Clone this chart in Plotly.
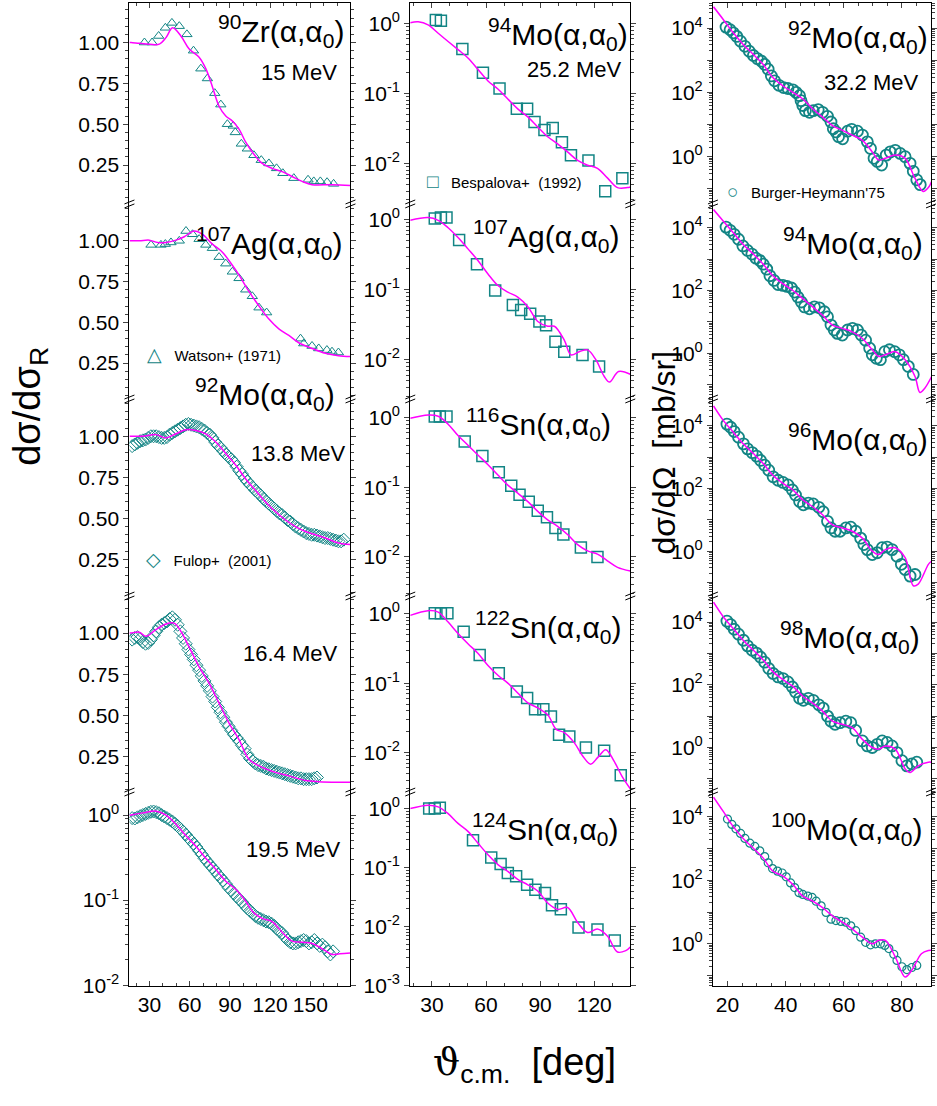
import plotly.graph_objects as go

W, H = 937, 1106
TEAL = '#138585'
MAG = '#ff00ff'
FONT = 'Liberation Sans, Arial, Helvetica, sans-serif'

# ---------------- left column : d(sigma)/d(sigma_R) ----------------
zr90_15_x = [26.2, 31.9, 36.8, 41.8, 46.7, 52.2, 57.9, 62.8, 68.3, 73.2, 78.7, 83.2, 88.1, 92.5, 94.0, 98.5,
             103.0, 107.9, 113.4, 119.1, 124.8, 129.5, 137.7, 148.3, 152.6, 157.5, 162.5, 167.4]
zr90_15_y = [1.00, 1.00, 1.04, 1.09, 1.12, 1.10, 1.05, 0.95, 0.84, 0.78, 0.69, 0.62, 0.50, 0.49, 0.45, 0.38,
             0.35, 0.31, 0.28, 0.26, 0.23, 0.20, 0.17, 0.16, 0.15, 0.15, 0.145, 0.135]
zr90_15_fit_x = [15, 16.2, 22.4, 30.0, 37.3, 42.3, 47.2, 53.4, 59.6, 67.0, 72.0, 76.9, 81.9, 86.9, 91.8, 96.8,
                 101.8, 106.7, 114.1, 121.5, 129.0, 136.4, 143.9, 151.3, 166.2, 180]
zr90_15_fit_y = [1.0, 1.0, 0.995, 0.99, 0.99, 1.03, 1.09, 1.04, 0.96, 0.91, 0.84, 0.73, 0.61, 0.55, 0.52, 0.47,
                 0.39, 0.33, 0.26, 0.23, 0.21, 0.18, 0.15, 0.13, 0.13, 0.125]

ag107_w_x = [31.1, 38.5, 41.8, 46.0, 52.2, 57.2, 62.1, 67.0, 72.0, 76.9, 81.9, 86.9, 91.8, 96.8, 101.8, 106.7,
             111.7, 117.4, 142.7, 145.1, 151.3, 156.3, 162.4, 166.2, 171.0]
ag107_w_y = [0.975, 0.975, 0.98, 0.99, 1.00, 1.06, 1.04, 1.01, 0.975, 0.955, 0.90, 0.86, 0.81, 0.77, 0.70, 0.66,
             0.59, 0.56, 0.40, 0.37, 0.355, 0.34, 0.33, 0.32, 0.315]
ag107_w_fit_x = [15, 22.4, 29.8, 36.0, 42.3, 49.7, 55.9, 63.3, 69.5, 76.9, 84.4, 91.8, 96.8, 104.2, 111.7, 119.1,
                 126.5, 134.0, 141.4, 151.3, 161.2, 171.0, 180]
ag107_w_fit_y = [1.0, 1.0, 1.004, 0.99, 0.99, 1.004, 1.025, 1.06, 1.04, 0.98, 0.93, 0.85, 0.79, 0.69, 0.60, 0.52,
                 0.46, 0.42, 0.375, 0.34, 0.31, 0.295, 0.29]

mo92_138_x = [17, 19, 21, 23, 25, 27, 29, 31, 33, 35, 37, 39, 41, 43, 45, 47, 49, 51, 53, 55,
              57, 59, 61, 63, 65, 67, 69, 71, 73, 75, 77, 79, 81, 83, 85, 87, 89, 91, 93, 95,
              97, 99, 101, 103, 105, 107, 109, 111, 113, 115, 117, 119, 121, 123, 125, 127, 129, 131, 133, 135,
              137, 139, 141, 143, 145, 147, 149, 151, 153, 155, 157, 159, 161, 163, 165, 167, 169, 171, 173, 175]
mo92_138_y = [0.94, 0.95, 0.96, 0.97, 0.975, 0.98, 0.99, 1.00, 1.00, 1.00,
              0.995, 0.99, 0.99, 0.995, 1.01, 1.02, 1.03, 1.04, 1.05, 1.06,
              1.07, 1.075, 1.07, 1.065, 1.06, 1.055, 1.045, 1.035, 1.02, 1.01,
              0.99, 0.965, 0.945, 0.93, 0.91, 0.89, 0.875, 0.86, 0.84, 0.815,
              0.79, 0.77, 0.745, 0.725, 0.705, 0.69, 0.67, 0.655, 0.64, 0.62,
              0.605, 0.59, 0.575, 0.56, 0.545, 0.53, 0.52, 0.505, 0.49, 0.48,
              0.465, 0.45, 0.44, 0.43, 0.42, 0.41, 0.405, 0.40, 0.40, 0.395,
              0.39, 0.385, 0.38, 0.38, 0.375, 0.37, 0.365, 0.36, 0.36, 0.37]
mo92_138_fit_x = [15, 16.2, 24.9, 34.8, 42.3, 49.7, 57.2, 64.6, 72.0, 79.4, 86.9, 94.3, 101.8, 109.2, 116.6,
                  124.1, 131.5, 138.9, 146.4, 153.8, 161.2, 171.1, 180]
mo92_138_fit_y = [1.0, 1.0, 1.0, 1.01, 0.99, 1.015, 1.04, 1.035, 1.015, 0.965, 0.895, 0.825, 0.74, 0.67, 0.60,
                  0.54, 0.49, 0.45, 0.42, 0.40, 0.38, 0.35, 0.34]

mo92_164_x = [17, 19, 21, 23, 25, 27, 29, 31, 33, 35, 37, 39, 41, 43, 45, 47, 49, 51, 53, 55,
              57, 59, 61, 63, 65, 67, 69, 71, 73, 75, 77, 79, 81, 83, 85, 87, 89, 91, 93, 95,
              97, 99, 101, 103, 105, 107, 109, 111, 113, 115, 117, 119, 121, 123, 125, 127, 129, 131, 133, 135,
              137, 139, 141, 143, 145, 147, 149, 151, 153, 155]
mo92_164_y = [0.96, 0.97, 0.975, 0.965, 0.945, 0.935, 0.94, 0.96, 0.985, 1.01,
              1.035, 1.05, 1.06, 1.07, 1.085, 1.095, 1.08, 1.05, 1.01, 0.97,
              0.935, 0.90, 0.87, 0.84, 0.805, 0.775, 0.74, 0.71, 0.68, 0.65,
              0.615, 0.585, 0.55, 0.52, 0.49, 0.46, 0.435, 0.41, 0.385, 0.365,
              0.345, 0.32, 0.30, 0.265, 0.24, 0.225, 0.21, 0.20, 0.195, 0.19,
              0.18, 0.175, 0.17, 0.165, 0.16, 0.155, 0.15, 0.145, 0.14, 0.135,
              0.13, 0.125, 0.12, 0.12, 0.115, 0.115, 0.115, 0.115, 0.12, 0.125]
mo92_164_fit_x = [15, 16.2, 22.4, 27.3, 34.8, 42.3, 48.4, 53.4, 59.6, 67.0, 74.5, 81.9, 89.3, 96.8, 104.2,
                  114.1, 124.0, 134.0, 146.4, 156.3, 171.1, 180]
mo92_164_fit_y = [1.0, 1.0, 1.005, 0.98, 1.02, 1.055, 1.06, 1.01, 0.915, 0.795, 0.695, 0.575, 0.455, 0.355,
                  0.236, 0.186, 0.156, 0.135, 0.107, 0.10, 0.097, 0.097]

mo92_195_x = [17, 19, 21, 23, 25, 27, 29, 31, 33, 35, 37, 39, 41, 43, 45, 47, 49, 51, 53, 55,
              57, 59, 61, 63, 65, 67, 69, 71, 73, 75, 77, 79, 81, 83, 85, 87, 89, 91, 93, 95,
              97, 99, 101, 103, 105, 107, 109, 111, 113, 115, 117, 119, 121, 123, 125, 127, 129, 131, 133, 135,
              137, 139, 141, 143, 145, 147, 149, 151, 153, 155, 157, 159, 161, 163, 165, 167]
mo92_195_y = [0.92, 0.91, 0.94, 0.97, 1.0, 1.03, 1.06, 1.09, 1.10, 1.08,
              1.05, 1.0, 0.96, 0.92, 0.88, 0.84, 0.79, 0.74, 0.69, 0.64,
              0.59, 0.54, 0.50, 0.46, 0.42, 0.38, 0.345, 0.31, 0.285, 0.26,
              0.24, 0.22, 0.20, 0.185, 0.17, 0.155, 0.14, 0.13, 0.12, 0.11,
              0.102, 0.095, 0.087, 0.08, 0.075, 0.07, 0.065, 0.062, 0.06, 0.058,
              0.056, 0.055, 0.053, 0.05, 0.046, 0.043, 0.041, 0.037, 0.034, 0.032,
              0.031, 0.031, 0.032, 0.033, 0.034, 0.033, 0.031, 0.032, 0.034, 0.031,
              0.029, 0.030, 0.028, 0.025, 0.023, 0.025]
mo92_195_fit_x = [15, 16.2, 24.9, 34.8, 42.3, 49.7, 57.2, 64.6, 72.0, 79.4, 86.9, 94.3, 101.8, 106.7, 114.1,
                  121.5, 129.0, 136.4, 143.9, 151.3, 158.7, 166.2, 172.0, 180]
mo92_195_fit_y = [0.99, 1.0, 1.06, 1.11, 1.0, 0.78, 0.57, 0.43, 0.31, 0.23, 0.167, 0.134, 0.097, 0.074, 0.061,
                  0.056, 0.042, 0.033, 0.032, 0.031, 0.027, 0.023, 0.0235, 0.024]

# ---------------- middle column : d(sigma)/d(sigma_R), Bespalova+ ----------------
mo94_252_x = [32.2, 35.0, 46.9, 58.3, 67.5, 77.1, 82.8, 86.9, 92.4, 97.0, 102.1, 107.1, 116.8, 126.1, 135.6]
mo94_252_y = [1.11, 1.09, 0.43, 0.197, 0.117, 0.060, 0.060, 0.039, 0.030, 0.032, 0.020, 0.013, 0.011, 0.0040, 0.0061]
mo94_252_fit_x = [18, 22.4, 27.9, 33.5, 39.0, 44.5, 50.0, 55.5, 61.1, 66.6, 72.1, 77.6, 83.2, 88.7, 94.2, 99.7,
                  105.2, 110.8, 116.3, 121.8, 127.3, 132.9, 138.4, 140]
mo94_252_fit_y = [1.02, 1.05, 0.95, 0.72, 0.55, 0.42, 0.32, 0.22, 0.15, 0.115, 0.083, 0.060, 0.046, 0.033, 0.024,
                  0.019, 0.0146, 0.011, 0.0094, 0.0085, 0.0062, 0.0045, 0.0045, 0.0046]

ag107_x = [31.6, 35.0, 38.1, 45.1, 55.0, 65.1, 74.9, 79.5, 84.5, 89.6, 93.3, 98.5, 103.4, 113.5, 122.7]
ag107_y = [1.03, 1.06, 1.06, 0.51, 0.23, 0.097, 0.060, 0.051, 0.045, 0.035, 0.031, 0.018, 0.013, 0.0117, 0.008]
ag107_fit_x = [18, 27.9, 33.5, 39.0, 44.5, 50.0, 55.5, 61.1, 66.6, 72.1, 77.6, 83.2, 88.7, 94.2, 97.9, 103.4,
               107.1, 111.7, 116.3, 120.9, 125.5, 128.5, 133.5, 140]
ag107_fit_y = [0.97, 1.06, 0.97, 0.76, 0.55, 0.38, 0.26, 0.167, 0.114, 0.092, 0.078, 0.057, 0.035, 0.030, 0.030,
               0.019, 0.0117, 0.013, 0.0138, 0.010, 0.0058, 0.0048, 0.0068, 0.0062]

sn116_x = [31.6, 34.4, 38.1, 48.2, 58.0, 67.1, 74.0, 78.6, 83.7, 88.7, 93.8, 98.5, 102.9, 112.6, 121.8]
sn116_y = [1.03, 1.03, 1.03, 0.45, 0.28, 0.163, 0.105, 0.078, 0.062, 0.046, 0.037, 0.026, 0.021, 0.0136, 0.010]
sn116_fit_x = [18, 27.9, 33.5, 39.0, 44.5, 50.0, 55.5, 61.1, 66.6, 72.1, 77.6, 83.2, 88.7, 94.2, 99.7, 105.2,
               110.8, 116.3, 121.8, 127.3, 132.9, 140]
sn116_fit_y = [0.97, 1.08, 1.04, 0.80, 0.55, 0.40, 0.29, 0.21, 0.149, 0.107, 0.082, 0.062, 0.045, 0.034, 0.0275,
               0.021, 0.015, 0.0122, 0.011, 0.0088, 0.0071, 0.0063]

sn122_x = [31.6, 35.0, 38.6, 47.6, 56.5, 67.1, 77.1, 82.8, 87.2, 91.8, 96.0, 100.5, 106.2, 115.4, 125.5, 134.7]
sn122_y = [1.02, 1.02, 1.02, 0.55, 0.254, 0.139, 0.076, 0.061, 0.042, 0.042, 0.033, 0.018, 0.017, 0.0118, 0.0106,
           0.0047]
sn122_fit_x = [18, 27.9, 33.5, 39.0, 44.5, 50.0, 55.5, 61.1, 66.6, 72.1, 77.6, 83.2, 88.7, 94.2, 98.9, 103.4,
               108.9, 113.5, 118.0, 122.0, 126.4, 131.0, 135.5, 140]
sn122_fit_y = [0.95, 1.11, 1.06, 0.76, 0.52, 0.37, 0.27, 0.18, 0.13, 0.10, 0.072, 0.052, 0.044, 0.035, 0.0216,
               0.0194, 0.0139, 0.009, 0.0068, 0.0085, 0.011, 0.0075, 0.0045, 0.003]

sn124_x = [28.5, 31.6, 34.4, 52.8, 62.9, 68.1, 72.1, 76.7, 82.8, 87.4, 92.7, 96.6, 101.5, 111.3, 121.8, 131.4]
sn124_y = [1.0, 1.0, 1.03, 0.29, 0.148, 0.115, 0.081, 0.071, 0.051, 0.042, 0.037, 0.023, 0.0196, 0.0096, 0.0089,
           0.0058]
sn124_fit_x = [18, 27.9, 33.5, 39.0, 44.5, 50.0, 55.5, 61.1, 66.6, 72.1, 77.6, 83.2, 88.7, 94.2, 99.7, 105.2,
               110.8, 116.3, 121.8, 127.3, 132.9, 137.5, 140]
sn124_fit_y = [1.0, 1.14, 1.07, 0.82, 0.56, 0.41, 0.26, 0.165, 0.112, 0.086, 0.063, 0.051, 0.040, 0.025, 0.0195,
               0.021, 0.0117, 0.0079, 0.0091, 0.0069, 0.0037, 0.0039, 0.0045]

# ---------------- right column : d(sigma)/d(Omega) [mb/sr], Burger-Heymann'75 ----------------
mo92_322_x = [19.5, 20.9, 22.0, 23.2, 24.5, 26.0, 27.5, 28.9, 30.3, 31.7, 32.8, 34.0, 35.1, 36.2, 37.7, 39.3,
              40.8, 42.5, 43.6, 44.8, 45.3, 45.9, 46.8, 48.2, 49.5, 51.2, 52.7, 54.4, 55.6, 56.4, 57.3, 58.2,
              59.6, 61.3, 62.7, 64.7, 66.4, 68.1, 69.2, 70.4, 71.5, 73.0, 74.6, 76.0, 77.7, 79.4, 81.1, 82.8,
              83.9, 85.1, 86.3]
mo92_322_y = [10700, 8900, 7100, 5500, 3900, 2700, 1900, 1400, 1120, 930, 740, 525, 324, 229, 166, 141,
              132, 120, 100, 79, 55, 39, 27, 24, 27, 29, 24, 18, 12, 7.4, 5.9, 4.2,
              3.6, 6.2, 7.1, 6.2, 4.7, 2.9, 1.8, 0.89, 0.71, 0.55, 1.12, 1.41, 1.58, 1.26, 1.0, 0.62,
              0.35, 0.19, 0.135]
mo92_322_fit_x = [15.2, 18.6, 22.0, 25.4, 28.9, 32.3, 35.6, 39.1, 42.5, 45.9, 49.3, 52.7, 56.1, 59.5, 62.9,
                  66.4, 69.8, 72.0, 74.3, 77.7, 81.1, 84.5, 87.3, 89.1, 90.2]
mo92_322_fit_y = [45700, 18200, 7100, 3090, 1510, 741, 288, 158, 100, 62, 31, 17, 9.3, 6.6, 4.7,
                  3.2, 1.41, 0.79, 0.89, 1.12, 0.89, 0.21, 0.083, 0.11, 0.17]

mo94_x = [19.5, 20.9, 22.3, 23.8, 25.3, 26.9, 28.4, 29.8, 31.2, 32.3, 33.5, 34.6, 36.0, 37.4, 39.1, 40.5,
          42.0, 43.1, 44.2, 45.4, 46.5, 48.2, 49.9, 51.6, 53.3, 54.4, 55.6, 56.7, 57.8, 59.5, 61.3, 63.0,
          64.7, 66.0, 67.5, 68.9, 69.8, 71.2, 72.6, 74.1, 75.7, 77.5, 79.1, 80.5, 82.2, 83.9]
mo94_y = [10500, 8300, 6200, 4300, 2630, 1900, 1450, 1070, 890, 690, 480, 295, 209, 155, 145, 135,
          120, 89, 62, 43, 30, 26, 30, 28, 21, 14.5, 7.9, 5.5, 4.3, 3.8, 5.5, 6.2,
          5.5, 3.8, 2.6, 1.45, 0.89, 0.69, 0.62, 1.12, 1.29, 1.12, 0.89, 0.62, 0.38, 0.21]
mo94_fit_x = [15.2, 18.6, 22.0, 25.4, 28.9, 32.3, 35.6, 39.1, 42.5, 45.9, 49.3, 52.7, 56.1, 59.5, 62.9, 66.4,
              69.8, 72.0, 74.3, 77.7, 81.1, 84.5, 86.2, 87.8, 90.2]
mo94_fit_y = [38000, 16200, 6900, 2950, 1450, 690, 295, 162, 100, 55, 30, 16.2, 7.9, 6.2, 4.8, 2.95,
              1.29, 0.79, 0.89, 1.12, 0.62, 0.18, 0.056, 0.075, 0.18]

mo96_x = [19.8, 21.1, 22.3, 23.8, 25.5, 26.9, 28.5, 30.0, 31.4, 32.8, 34.2, 35.7, 37.4, 39.1, 40.8, 42.3,
          43.4, 44.8, 46.1, 47.8, 49.5, 51.4, 52.9, 54.4, 55.6, 57.0, 58.7, 60.7, 62.4, 64.1, 65.8, 66.9,
          68.1, 69.8, 71.5, 73.2, 74.9, 76.6, 78.3, 79.8, 81.1, 82.8, 84.5]
mo96_y = [11200, 8900, 6500, 4300, 2630, 1820, 1380, 1070, 780, 550, 380, 234, 182, 155, 129, 89,
          62, 38, 30, 34, 32, 25, 18, 8.9, 5.5, 4.3, 4.3, 5.5, 5.8, 4.3, 2.6, 1.62,
          1.12, 0.78, 0.89, 1.29, 1.35, 1.12, 0.69, 0.38, 0.26, 0.16, 0.18]
mo96_fit_x = [15.2, 18.6, 22.0, 25.4, 28.9, 32.3, 35.6, 39.1, 42.5, 45.9, 49.3, 52.7, 56.1, 59.5, 62.9, 66.4,
              69.8, 72.0, 74.3, 77.7, 81.1, 83.9, 85.6, 89.1, 90.2]
mo96_fit_y = [42700, 14500, 6200, 2630, 1290, 617, 263, 145, 89, 43, 26, 14.5, 6.9, 5.5, 4.3, 2.6,
              1.0, 0.78, 1.12, 1.29, 0.62, 0.079, 0.089, 0.38, 0.48]

mo98_x = [19.8, 21.1, 22.3, 23.8, 25.5, 26.9, 28.5, 30.0, 31.4, 32.8, 34.2, 35.7, 37.4, 39.1, 40.8, 42.3,
          43.4, 44.8, 46.1, 47.8, 49.5, 51.4, 52.9, 54.4, 55.6, 57.0, 58.7, 60.7, 62.4, 64.1, 66.4, 68.1,
          69.8, 71.5, 73.2, 74.9, 76.6, 78.3, 80.0, 81.7, 83.4, 85.1]
mo98_y = [10700, 8300, 5900, 4100, 2630, 1740, 1260, 1020, 760, 525, 331, 229, 178, 158, 123, 85,
          59, 37, 32, 37, 32, 23, 18, 10, 6.9, 5.5, 6.2, 6.9, 6.2, 3.5, 1.62, 1.12,
          1.0, 1.26, 1.62, 1.45, 1.12, 0.69, 0.38, 0.26, 0.30, 0.34]
mo98_fit_x = [15.2, 18.6, 22.0, 25.4, 28.9, 32.3, 35.6, 39.1, 42.5, 45.9, 49.3, 52.7, 56.1, 59.5, 62.9, 66.4,
              69.8, 72.0, 74.3, 77.7, 81.1, 82.8, 85.6, 89.1, 90.2]
mo98_fit_y = [42700, 14500, 6200, 2630, 1260, 617, 263, 145, 89, 43, 26, 14.5, 6.9, 5.5, 4.3, 1.82,
              1.0, 0.89, 1.12, 0.89, 0.21, 0.16, 0.26, 0.34, 0.34]

mo100_x = [20.0, 21.5, 22.9, 24.5, 26.0, 27.7, 29.4, 31.1, 32.8, 34.0, 35.5, 37.2, 38.8, 40.2, 41.7, 43.1,
           44.6, 45.9, 47.6, 49.1, 50.5, 52.2, 53.9, 55.6, 57.3, 59.0, 60.7, 62.4, 64.1, 65.8, 67.5, 69.2,
           70.9, 72.6, 74.1, 75.5, 77.2, 78.3, 80.0, 81.7, 83.4, 85.1]
mo100_y = [8500, 5750, 4200, 3000, 2090, 1480, 1170, 850, 560, 355, 234, 195, 170, 129, 83, 59,
           41, 36, 32, 29, 22, 15.8, 9.8, 6.0, 5.4, 5.1, 4.8, 3.7, 2.6, 1.62, 1.12, 0.93,
           1.0, 1.0, 0.89, 0.71, 0.47, 0.30, 0.19, 0.155, 0.18, 0.21]
mo100_fit_x = [15.2, 18.6, 22.0, 25.4, 28.9, 32.3, 35.6, 39.1, 42.5, 45.9, 49.3, 52.7, 56.1, 59.5, 62.9, 66.4,
               69.8, 72.0, 74.3, 77.7, 81.1, 83.4, 86.7, 89.1, 90.2]
mo100_fit_y = [41700, 14500, 4900, 2090, 1020, 500, 195, 135, 74, 32, 22, 13.8, 7.6, 4.8, 2.95, 1.62,
               1.0, 1.29, 1.29, 0.39, 0.091, 0.148, 0.49, 0.62, 0.63]

# tick labels
x_ticks = {0: [30, 60, 90, 120, 150], 1: [30, 60, 90, 120], 2: [20, 40, 60, 80]}
lin_ticks = [0.25, 0.50, 0.75, 1.00]
lin_ticktext = ['0.25', '0.50', '0.75', '1.00']
log_ticks_mid = [1e-3, 1e-2, 1e-1, 1]
log_ticktext_mid = ['10<sup>-3</sup>', '10<sup>-2</sup>', '10<sup>-1</sup>', '10<sup>0</sup>']
log_ticks_right = [0.1, 1, 10, 100, 1000, 10000]
log_ticktext_right = ['', '10<sup>0</sup>', '', '10<sup>2</sup>', '', '10<sup>4</sup>']

# ---------------- layout geometry (pixels) ----------------
col_px = [(130, 352), (412, 633), (716, 935)]
row_px = [(3, 206), (206, 403), (403, 602), (602, 800), (800, 996)]
x_range = {0: [15, 180], 1: [18, 140], 2: [15, 90]}
x_minor = {0: 10, 1: 10, 2: 5}

# (row, col, data_x, data_y, symbol, size, lw, fit_x, fit_y, log, yrange)
panels = [
    (0, 0, zr90_15_x, zr90_15_y, 'triangle-up-open', 9, 1, zr90_15_fit_x, zr90_15_fit_y, False, [0.012, 1.242]),
    (1, 0, ag107_w_x, ag107_w_y, 'triangle-up-open', 9, 1, ag107_w_fit_x, ag107_w_fit_y, False, [0.03, 1.226]),
    (2, 0, mo92_138_x, mo92_138_y, 'diamond-open', 10, 1, mo92_138_fit_x, mo92_138_fit_y, False, [0.027, 1.227]),
    (3, 0, mo92_164_x, mo92_164_y, 'diamond-open', 10, 1, mo92_164_fit_x, mo92_164_fit_y, False, [0.037, 1.224]),
    (4, 0, mo92_195_x, mo92_195_y, 'diamond-open', 10, 1, mo92_195_fit_x, mo92_195_fit_y, True, [-2.01, 0.27]),
    (0, 1, mo94_252_x, mo94_252_y, 'square-open', 11, 1.5, mo94_252_fit_x, mo94_252_fit_y, True, [-2.58, 0.29]),
    (1, 1, ag107_x, ag107_y, 'square-open', 11, 1.5, ag107_fit_x, ag107_fit_y, True, [-2.56, 0.22]),
    (2, 1, sn116_x, sn116_y, 'square-open', 11, 1.5, sn116_fit_x, sn116_fit_y, True, [-2.56, 0.264]),
    (3, 1, sn122_x, sn122_y, 'square-open', 11, 1.5, sn122_fit_x, sn122_fit_y, True, [-2.57, 0.257]),
    (4, 1, sn124_x, sn124_y, 'square-open', 11, 1.5, sn124_fit_x, sn124_fit_y, True, [-3.01, 0.28]),
    (0, 2, mo92_322_x, mo92_322_y, 'circle-open', 11, 1.8, mo92_322_fit_x, mo92_322_fit_y, True, [-1.47, 4.78]),
    (1, 2, mo94_x, mo94_y, 'circle-open', 11, 1.8, mo94_fit_x, mo94_fit_y, True, [-1.46, 4.76]),
    (2, 2, mo96_x, mo96_y, 'circle-open', 11, 1.8, mo96_fit_x, mo96_fit_y, True, [-1.43, 4.85]),
    (3, 2, mo98_x, mo98_y, 'circle-open', 11, 1.8, mo98_fit_x, mo98_fit_y, True, [-1.42, 4.83]),
    (4, 2, mo100_x, mo100_y, 'circle-open', 8, 1.2, mo100_fit_x, mo100_fit_y, True, [-1.33, 4.78]),
]

minor_log_vals = [m * 10.0 ** e for e in range(-4, 5) for m in range(2, 10)]
tickfont = dict(family=FONT, size=21, color='black')

fig = go.Figure()
layout = dict(width=W, height=H, margin=dict(l=0, r=0, t=0, b=0), showlegend=False,
              plot_bgcolor='white', paper_bgcolor='white', font=dict(family=FONT, color='black'))

for i, (r, c, dx, dy, sym, ms, lw, fx, fy, islog, yr) in enumerate(panels):
    n = i + 1
    xs = 'x' if n == 1 else f'x{n}'
    ys = 'y' if n == 1 else f'y{n}'
    fig.add_trace(go.Scatter(x=dx, y=dy, mode='markers', xaxis=xs, yaxis=ys,
                             marker=dict(symbol=sym, size=ms, color=TEAL, line=dict(color=TEAL, width=lw))))
    fig.add_trace(go.Scatter(x=fx, y=fy, mode='lines', xaxis=xs, yaxis=ys,
                             line=dict(color=MAG, width=1.5, shape='spline', smoothing=1.0)))
    c0, c1 = col_px[c]
    r0, r1 = row_px[r]
    xa = dict(domain=[c0 / W, c1 / W], range=x_range[c], anchor=ys, showgrid=False, zeroline=False,
              tickmode='array', tickvals=x_ticks[c], tickfont=tickfont, linecolor='black', linewidth=1)
    if r == 0:
        xa.update(side='top', showline=True, ticks='inside', ticklen=5, showticklabels=False,
                  minor=dict(ticks='inside', ticklen=3, tick0=0, dtick=x_minor[c]))
    elif r == 4:
        xa.update(side='bottom', showline=True, ticks='inside', ticklen=5, showticklabels=True,
                  minor=dict(ticks='inside', ticklen=3, tick0=0, dtick=x_minor[c]))
    else:
        xa.update(showline=False, ticks='', showticklabels=False)
    ya = dict(domain=[1 - r1 / H, 1 - r0 / H], range=yr, anchor=xs, showgrid=False, zeroline=False,
              showline=True, linecolor='black', linewidth=1, mirror='allticks', ticks='outside', ticklen=5,
              tickfont=tickfont, tickmode='array')
    if not islog:
        ya.update(type='linear', tickvals=lin_ticks, ticktext=lin_ticktext,
                  minor=dict(ticks='outside', ticklen=3, tick0=0, dtick=0.05))
    else:
        if c == 2:
            tv, tt = log_ticks_right, log_ticktext_right
        else:
            tv, tt = log_ticks_mid, log_ticktext_mid
        ya.update(type='log', tickvals=tv, ticktext=tt,
                  minor=dict(ticks='outside', ticklen=3, tickmode='array', tickvals=minor_log_vals))
    layout['xaxis' if n == 1 else f'xaxis{n}'] = xa
    layout['yaxis' if n == 1 else f'yaxis{n}'] = ya

fig.update_layout(**layout)


def ann(text, x, y, size, xanchor='right', yanchor='middle', angle=0):
    return dict(text=text, x=x / W, y=1 - y / H, xref='paper', yref='paper', xanchor=xanchor,
                yanchor=yanchor, showarrow=False, textangle=angle,
                font=dict(family=FONT, size=size, color='black'))


A0 = '(α,α<sub>0</sub>)'
titles = [
    ('<sup>90</sup>Zr' + A0, 347, 31), ('<sup>107</sup>Ag' + A0, 345, 245), ('<sup>92</sup>Mo' + A0, 338, 398),
    ('<sup>94</sup>Mo' + A0, 633, 34), ('<sup>107</sup>Ag' + A0, 624, 238), ('<sup>116</sup>Sn' + A0, 616, 428),
    ('<sup>122</sup>Sn' + A0, 626, 633), ('<sup>124</sup>Sn' + A0, 623, 837),
    ('<sup>92</sup>Mo' + A0, 934, 37), ('<sup>94</sup>Mo' + A0, 929, 245), ('<sup>96</sup>Mo' + A0, 934, 443),
    ('<sup>98</sup>Mo' + A0, 926, 643), ('<sup>100</sup>Mo' + A0, 928, 837),
]
energies = [('15 MeV', 340, 73), ('13.8 MeV', 348, 458), ('16.4 MeV', 340, 660), ('19.5 MeV', 343, 858),
            ('25.2 MeV', 626, 70), ('32.2 MeV', 924, 83)]
SYM = "<span style='color:%s;font-size:19px'>%%s</span>" % TEAL
legends = [(SYM % '△' + '\u00a0\u00a0\u00a0Watson+ (1971)', 146, 358),
           (SYM % '◇' + '\u00a0\u00a0\u00a0Fulop+  (2001)', 145, 565),
           (SYM % '□' + '\u00a0\u00a0\u00a0Bespalova+  (1992)', 427, 183),
           (SYM % '○' + '\u00a0\u00a0\u00a0Burger-Heymann\'75', 728, 193)]

annotations = []
for t, x, y in titles:
    annotations.append(ann(t, x, y, 30))
for t, x, y in energies:
    annotations.append(ann(t, x, y, 22))
for t, x, y in legends:
    annotations.append(ann(t, x, y, 15, xanchor='left'))
annotations.append(ann('dσ/dσ<sub>R</sub>', 30, 410, 38, xanchor='center', angle=-90))
annotations.append(ann('dσ/dΩ\u00a0\u00a0[mb/sr]', 667, 457, 32, xanchor='center', angle=-90))
annotations.append(ann("<span style='font-family:DejaVu Serif'>ϑ</span><sub>c.m.</sub>\u00a0\u00a0[deg]",
                       527, 1075, 38, xanchor='center'))

# axis-break marks at panel junctions
shapes = []
for c0, c1 in col_px:
    for xe in (c0, c1):
        for yj in (206, 403, 602, 800):
            for off in (-2, 2):
                shapes.append(dict(type='line', xref='paper', yref='paper',
                                   x0=(xe - 5) / W, y0=1 - (yj + off + 2) / H,
                                   x1=(xe + 5) / W, y1=1 - (yj + off - 2) / H,
                                   line=dict(color='black', width=1)))

fig.update_layout(annotations=annotations, shapes=shapes)
fig.write_html('out.html', config={'displayModeBar': False},
               post_script="document.body.style.margin='0px';document.body.style.overflow='hidden';")
